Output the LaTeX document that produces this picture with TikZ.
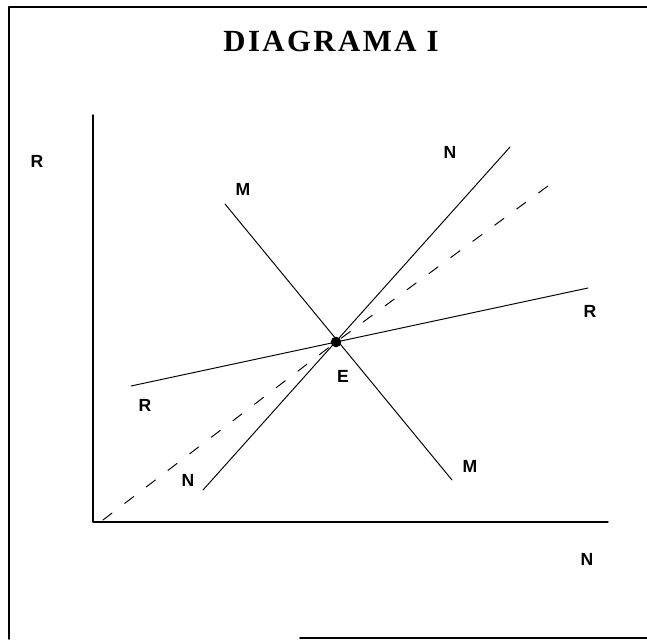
\documentclass[tikz,border=0pt]{standalone}
\usepackage{fontspec}
\newfontfamily\titlefont[LetterSpace=8]{Liberation Serif}
\newfontfamily\labelfont{Liberation Sans}
\begin{document}
\begin{tikzpicture}[line cap=round,line join=round,
    curve/.style={line width=0.55pt},
    lbl/.style={font=\labelfont\bfseries\normalsize,inner sep=0pt}]
  \useasboundingbox (-1.86,-2.34) rectangle (11.08,10.44);
  % frame
  \draw[line width=0.9pt] (11.08,10.3) -- (-1.68,10.3) -- (-1.68,-2.34);
  \draw[line width=0.9pt] (4.14,-2.32) -- (11.08,-2.32);
  \node[font=\titlefont\bfseries\fontsize{17.5}{20}\selectfont,inner sep=0pt] (title) at (4.76,9.62) {DIAGRAMA I};
  % axes
  \coordinate (O) at (0,0);
  \coordinate (ytop) at (0,8.14);
  \coordinate (xend) at (10.3,0);
  \draw[line width=0.8pt] (ytop) -- (O) -- (xend);
  % equilibrium
  \coordinate (E) at (4.86,3.6);
  \coordinate (M1) at (2.64,6.36);
  \coordinate (M2) at (7.18,0.84);
  \coordinate (R1) at (0.76,2.72);
  \coordinate (R2) at (9.9,4.68);
  \coordinate (N1) at (2.2,0.64);
  \coordinate (N2) at (8.34,7.5);
  \coordinate (D1) at (0.2,0.04);
  \coordinate (D2) at (9.18,6.78);
  \draw[curve] (M1) -- (M2);
  \draw[curve] (R1) -- (R2);
  \draw[curve] (N1) -- (N2);
  \draw[curve,dash pattern=on 6.5pt off 9pt] (D1) -- (E) -- (D2);
  \fill (E) circle (3pt);
  % labels
  \node[lbl] (ylab) at (-1.12,7.22) {R};
  \node[lbl] (xlab) at (9.88,-0.74) {N};
  \node[lbl] (Nt) at (7.14,7.4) {N};
  \node[lbl] (Mt) at (3.0,6.66) {M};
  \node[lbl] (Rr) at (9.94,4.22) {R};
  \node[lbl] (El) at (5.0,2.92) {E};
  \node[lbl] (Rl) at (1.04,2.34) {R};
  \node[lbl] (Nb) at (1.9,0.84) {N};
  \node[lbl] (Mb) at (7.54,1.12) {M};
\end{tikzpicture}
\end{document}
